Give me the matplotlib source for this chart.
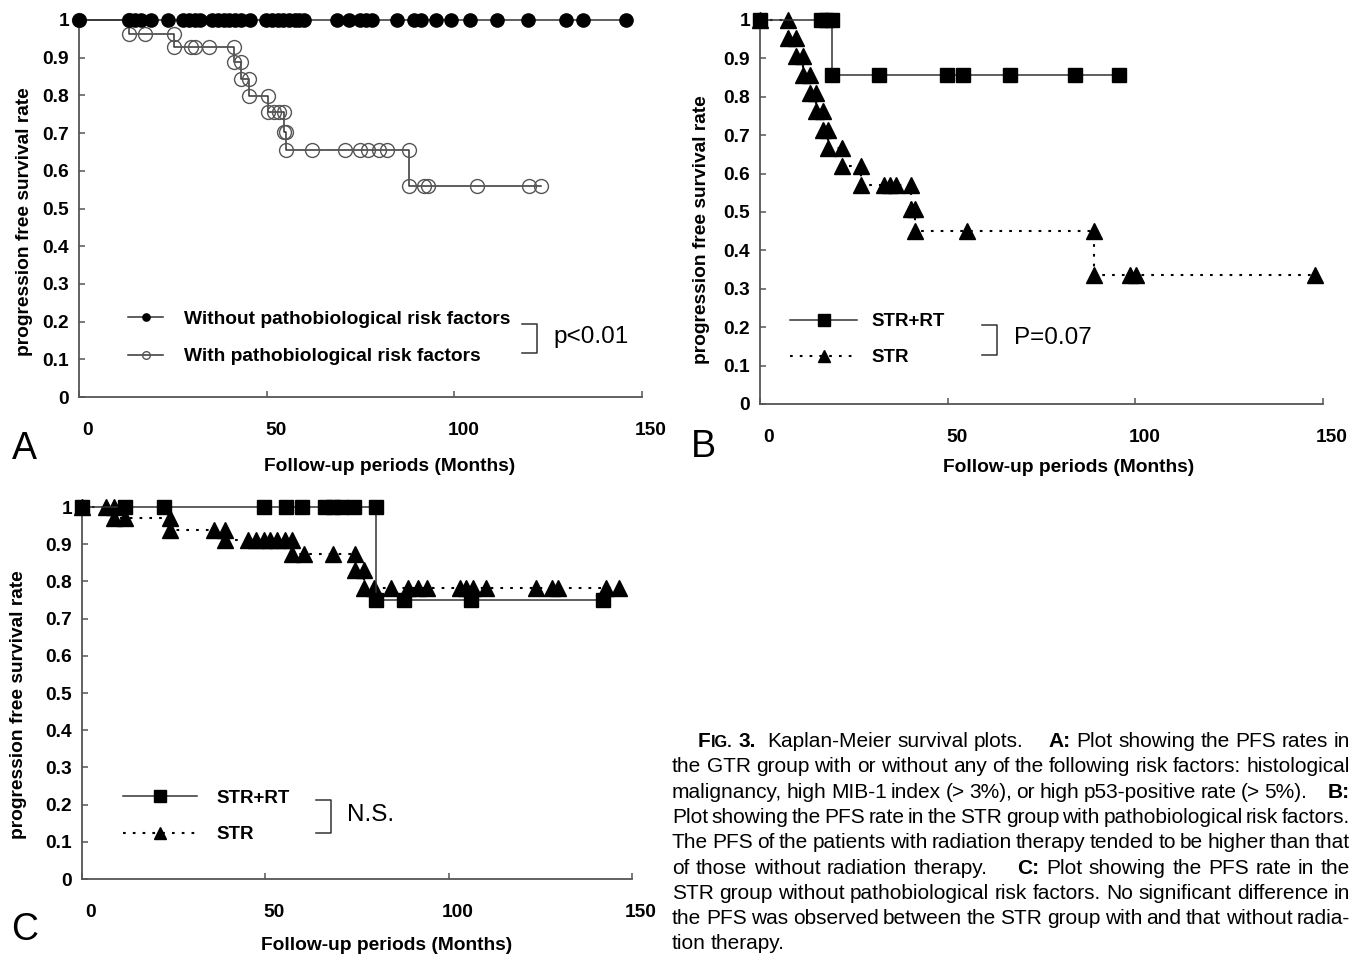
import matplotlib
matplotlib.use('Agg')
import matplotlib.pyplot as plt
from matplotlib import font_manager
from matplotlib.transforms import ScaledTranslation


def pick_font(names):
    for name in names:
        try:
            font_manager.findfont(font_manager.FontProperties(family=name),
                                  fallback_to_default=False)
            return name
        except Exception:
            pass
    return 'DejaVu Sans'


NARROW = pick_font(['Liberation Sans Narrow', 'Arial Narrow', 'Liberation Sans'])
plt.rcParams['font.family'] = [NARROW, 'DejaVu Sans']

# ---- data (months, progression free survival rate) ----
x_ticks = [0, 50, 100, 150]
y_ticks = [0, 0.1, 0.2, 0.3, 0.4, 0.5, 0.6, 0.7, 0.8, 0.9, 1.0]
y_tick_labels = ['0', '0.1', '0.2', '0.3', '0.4', '0.5', '0.6', '0.7', '0.8', '0.9', '1']

# A: GTR group
a_without_t = [0, 13.4, 15, 16.5, 19.2, 23.6, 27.8, 29.4, 30.8, 32.3, 35.4, 37, 38.5,
               40, 41.6, 43.1, 45.6, 49.8, 51.3, 52.9, 54.4, 55.9, 57.5, 58.5, 60,
               68.8, 71.9, 74.9, 76.5, 78, 84.7, 89.3, 91.2, 95, 99, 104.2, 111.3,
               119.5, 129.8, 134.4, 145.7]
a_without_s = [1.0, 1.0, 1.0, 1.0, 1.0, 1.0, 1.0, 1.0, 1.0, 1.0, 1.0, 1.0, 1.0,
               1.0, 1.0, 1.0, 1.0, 1.0, 1.0, 1.0, 1.0, 1.0, 1.0, 1.0, 1.0,
               1.0, 1.0, 1.0, 1.0, 1.0, 1.0, 1.0, 1.0, 1.0, 1.0, 1.0, 1.0,
               1.0, 1.0, 1.0, 1.0]
a_with_t = [0, 13.4, 13.4, 17.5, 25.2, 25.2, 29.9, 31.0, 34.7, 41.3, 41.3, 43.2, 43.2,
            45.2, 45.2, 50.3, 50.3, 51.9, 53.4, 54.6, 54.6, 55.2, 55.2, 62.2, 70.8,
            74.9, 77.0, 79.9, 82.1, 88.0, 88.0, 91.9, 92.9, 106.0, 120.0, 123.0]
a_with_s = [1.0, 1.0, 0.962, 0.962, 0.962, 0.929, 0.929, 0.929, 0.929, 0.929, 0.888, 0.888, 0.844,
            0.844, 0.798, 0.798, 0.756, 0.756, 0.756, 0.756, 0.704, 0.704, 0.655, 0.655, 0.655,
            0.655, 0.655, 0.655, 0.655, 0.655, 0.561, 0.561, 0.561, 0.561, 0.561, 0.561]

# B: STR group with risk factors
b_rt_t = [0, 16.2, 17.7, 19.3, 19.3, 31.6, 49.7, 54.1, 66.7, 83.8, 95.6]
b_rt_s = [1.0, 1.0, 1.0, 1.0, 0.857, 0.857, 0.857, 0.857, 0.857, 0.857, 0.857]
b_str_t = [0, 7.5, 7.5, 9.7, 9.7, 11.4, 11.4, 13.2, 13.2, 15.0, 15.0, 16.9, 16.9, 18.0,
           18.0, 21.8, 21.8, 26.9, 26.9, 33.1, 34.6, 36.2, 40.2, 40.2, 41.3, 41.3, 55.1,
           88.9, 88.9, 98.6, 100.1, 147.8]
b_str_s = [1.0, 1.0, 0.952, 0.952, 0.905, 0.905, 0.857, 0.857, 0.810, 0.810, 0.762, 0.762, 0.714, 0.714,
           0.667, 0.667, 0.619, 0.619, 0.571, 0.571, 0.571, 0.571, 0.571, 0.509, 0.509, 0.450, 0.450,
           0.450, 0.335, 0.335, 0.335, 0.335]

# C: STR group without risk factors
c_rt_t = [0, 11.6, 22.3, 49.5, 55.5, 60.0, 66.3, 68.4, 70.5, 74.1, 80.1, 80.1, 87.7, 106.1, 142.2]
c_rt_s = [1.0, 1.0, 1.0, 1.0, 1.0, 1.0, 1.0, 1.0, 1.0, 1.0, 1.0, 0.75, 0.75, 0.75, 0.75]
c_str_t = [0, 6.5, 8.7, 8.7, 11.8, 23.9, 23.9, 35.9, 38.9, 38.9, 45.4, 47.4, 49.5, 51.4,
           53.2, 55.3, 57.4, 57.4, 60.5, 68.4, 74.5, 74.5, 77.0, 77.0, 79.7, 84.3, 88.8,
           91.5, 94.1, 103.0, 104.6, 106.7, 110.1, 123.7, 128.1, 129.7, 142.8, 146.5]
c_str_s = [1.0, 1.0, 1.0, 0.970, 0.970, 0.970, 0.939, 0.939, 0.939, 0.912, 0.912, 0.912, 0.912, 0.912,
           0.912, 0.912, 0.912, 0.875, 0.875, 0.875, 0.875, 0.830, 0.830, 0.782, 0.782, 0.782, 0.782,
           0.782, 0.782, 0.782, 0.782, 0.782, 0.782, 0.782, 0.782, 0.782, 0.782, 0.782]

caption_lines = [
    'FIG. 3.  Kaplan-Meier survival plots.    A: Plot showing the PFS rates in',
    'the GTR group with or without any of the following risk factors: histological',
    'malignancy, high MIB-1 index (> 3%), or high p53-positive rate (> 5%).    B:',
    'Plot showing the PFS rate in the STR group with pathobiological risk factors.',
    'The PFS of the patients with radiation therapy tended to be higher than that',
    'of those without radiation therapy.    C: Plot showing the PFS rate in the',
    'STR group without pathobiological risk factors. No significant difference in',
    'the PFS was observed between the STR group with and that without radia-',
    'tion therapy.',
]
bold_words = {'FIG.', '3.', 'A:', 'B:', 'C:'}

W, H = 1357, 956
LINE = '#333333'
AXC = '#555555'
LAB = 13.8
fig = plt.figure(figsize=(W / 100, H / 100), dpi=100)


def px_axes(left, right, top, bottom):
    return fig.add_axes([left / W, 1 - bottom / H, (right - left) / W, (bottom - top) / H])


def style_axes(ax, ylab_xy, xlab_xy):
    ax.set_xlim(0, 150)
    ax.set_ylim(0, 1)
    for s in ['top', 'right']:
        ax.spines[s].set_visible(False)
    for s in ['left', 'bottom']:
        ax.spines[s].set_color(AXC)
        ax.spines[s].set_linewidth(1.3)
    ax.set_xticks(x_ticks)
    ax.set_yticks(y_ticks)
    ax.set_yticklabels(y_tick_labels)
    ax.tick_params(direction='in', length=4, width=1.1, color=AXC, labelsize=LAB)
    ax.tick_params(axis='x', pad=18)
    ax.tick_params(axis='y', pad=7)
    shift = ScaledTranslation(0.09, 0, fig.dpi_scale_trans)
    for lab in ax.get_xticklabels():
        lab.set_fontweight('bold')
        lab.set_transform(lab.get_transform() + shift)
    for lab in ax.get_yticklabels():
        lab.set_fontweight('bold')
    ax.set_ylabel('progression free survival rate', fontweight='bold', fontsize=LAB)
    ax.yaxis.set_label_coords(*ylab_xy)
    ax.set_xlabel('Follow-up periods (Months)', fontweight='bold', fontsize=LAB)
    ax.xaxis.set_label_coords(*xlab_xy)


def bracket(ax, x0, x1, y0, y1, text):
    ax.plot([x0, x1, x1, x0], [y1, y1, y0, y0], color=LINE, lw=1.1, transform=ax.transAxes)
    ax.text(x1 + 0.03, (y0 + y1) / 2 + 0.005, text, transform=ax.transAxes,
            fontsize=17.5, va='center', ha='left')


dotted = (0, (1.3, 3.4))

# ---- panel A ----
axA = px_axes(79, 642, 20, 397)
axA.plot(a_without_t, a_without_s, color=LINE, lw=1.1, marker='o', ms=9.5, mfc='black',
         mec='black', clip_on=False, zorder=4, label='Without pathobiological risk factors')
axA.plot(a_with_t, a_with_s, color=LINE, lw=1.1, marker='o', ms=10, mfc='none',
         mec='#555555', mew=1.0, clip_on=False, zorder=3, label='With pathobiological risk factors')
style_axes(axA, (-0.082, 0.465), (0.552, -0.163))
axA.legend(loc='center left', bbox_to_anchor=(0.087, 0.157), frameon=False,
           prop={'weight': 'bold', 'size': LAB}, markerscale=0.55, handlelength=1.85,
           handletextpad=1.05, labelspacing=1.05, borderpad=0, borderaxespad=0)
bracket(axA, 0.787, 0.8135, 0.1167, 0.1936, 'p<0.01')

# ---- panel B ----
axB = px_axes(760, 1323, 20, 404)
axB.plot(b_rt_t, b_rt_s, color=LINE, lw=1.1, marker='s', ms=10.5, mfc='black', mec='black',
         clip_on=False, zorder=4, label='STR+RT')
axB.plot(b_str_t, b_str_s, color='black', lw=1.5, ls=dotted, marker='^', ms=11.5, mfc='black',
         mec='black', clip_on=False, zorder=3, label='STR')
style_axes(axB, (-0.089, 0.453), (0.549, -0.143))
axB.legend(loc='center left', bbox_to_anchor=(0.053, 0.167), frameon=False,
           prop={'weight': 'bold', 'size': 13.5}, markerscale=0.8, handlelength=3.6,
           handletextpad=0.75, labelspacing=1.0, borderpad=0, borderaxespad=0)
bracket(axB, 0.394, 0.421, 0.1276, 0.2057, 'P=0.07')

# ---- panel C ----
axC = px_axes(82, 632, 507, 879)
axC.plot(c_rt_t, c_rt_s, color=LINE, lw=1.1, marker='s', ms=10.5, mfc='black', mec='black',
         clip_on=False, zorder=4, label='STR+RT')
axC.plot(c_str_t, c_str_s, color='black', lw=1.5, ls=dotted, marker='^', ms=11.5, mfc='black',
         mec='black', clip_on=False, zorder=3, label='STR')
style_axes(axC, (-0.1, 0.47), (0.5545, -0.155))
axC.legend(loc='center left', bbox_to_anchor=(0.0745, 0.168), frameon=False,
           prop={'weight': 'bold', 'size': 13.5}, markerscale=0.8, handlelength=3.95,
           handletextpad=1.05, labelspacing=1.05, borderpad=0, borderaxespad=0)
bracket(axC, 0.4255, 0.4527, 0.1237, 0.2124, 'N.S.')

# panel letters
fig.text(24 / W, 1 - 449 / H, 'A', fontsize=27, ha='center', va='center')
fig.text(703 / W, 1 - 447 / H, 'B', fontsize=27, ha='center', va='center')
fig.text(25 / W, 1 - 930 / H, 'C', fontsize=27, ha='center', va='center')

# ---- caption, justified word by word (baseline aligned) ----
renderer = fig.canvas.get_renderer()
cap_size = 15
cap_left, cap_right, cap_base, cap_step = 672, 1350, 747, 25.3
for i, line in enumerate(caption_lines):
    words, gaps, pending = [], [], 0
    for part in line.split(' '):
        if part == '':
            pending += 1
            continue
        if words:
            gaps.append(1 + 1.2 * pending)
        words.append(part)
        pending = 0
    y = 1 - (cap_base + i * cap_step) / H
    groups = []  # each word is a list of pieces drawn side by side
    for w in words:
        weight = 'bold' if w in bold_words else 'normal'
        if w == 'FIG.':
            pieces = [('F', cap_size), ('IG.', cap_size * 0.78)]
        else:
            pieces = [(w, cap_size)]
        arts = [fig.text(0, y, p, fontsize=sz, fontweight=weight, va='baseline', ha='left')
                for p, sz in pieces]
        groups.append(arts)
    widths = [[a.get_window_extent(renderer).width for a in g] for g in groups]
    total = sum(sum(ws) for ws in widths)
    x0 = cap_left + (26 if i == 0 else 0)
    if i < len(caption_lines) - 1:
        unit = (cap_right - x0 - total) / sum(gaps)
    else:
        unit = cap_size * 0.3
    x = x0
    for k, (g, ws) in enumerate(zip(groups, widths)):
        for a, w in zip(g, ws):
            a.set_x(x / W)
            x += w
        if k < len(gaps):
            x += unit * gaps[k]

fig.savefig('out.png', dpi=100)
